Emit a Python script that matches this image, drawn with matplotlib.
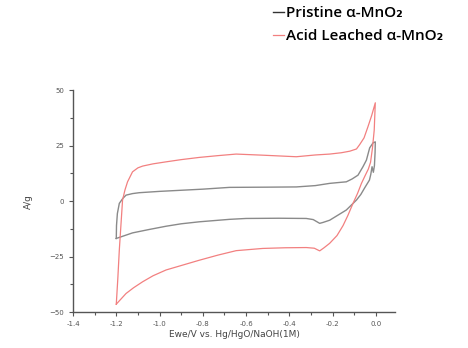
import matplotlib.pyplot as plt
import numpy as np

# Acid leached alpha-MnO2 (red): anodic sweep up to 0 V, then cathodic sweep back
leached_E = [-1.2, -1.193, -1.186, -1.178, -1.171, -1.16, -1.148, -1.125, -1.1, -1.078, -1.03, -0.97,
             -0.9, -0.816, -0.73, -0.646, -0.523, -0.368, -0.28, -0.214, -0.16, -0.121, -0.09, -0.075,
             -0.055, -0.037, -0.02, -0.003,
             -0.008, -0.016, -0.025, -0.035, -0.05, -0.067, -0.085, -0.106, -0.13, -0.152, -0.18,
             -0.214, -0.24, -0.26, -0.285, -0.322, -0.42, -0.523, -0.646, -0.73, -0.816, -0.9, -0.97,
             -1.03, -1.078, -1.12, -1.155, -1.2]
leached_I = [-46.4, -35.0, -22.0, -10.0, 0.5, 5.0, 8.7, 13.2, 15.0, 15.8, 16.8, 17.7,
             18.7, 19.7, 20.5, 21.2, 20.7, 20.0, 20.8, 21.2, 21.8, 22.5, 23.5, 25.5,
             28.5, 33.5, 38.5, 44.3,
             32.0, 24.0, 17.5, 14.5, 11.5, 8.0, 3.5, -1.0, -6.5, -11.0, -15.5,
             -19.0, -21.0, -22.4, -21.2, -20.9, -21.0, -21.3, -22.3, -24.3, -26.6, -29.0, -31.0,
             -33.6, -36.3, -39.0, -41.6, -46.4]

# Pristine alpha-MnO2 (gray)
pristine_E = [-1.2, -1.199, -1.195, -1.186, -1.17, -1.155, -1.125, -1.094, -1.0, -0.9, -0.8, -0.677,
              -0.5, -0.368, -0.28, -0.214, -0.16, -0.137, -0.11, -0.083, -0.06, -0.044, -0.029,
              -0.013, -0.003,
              -0.004, -0.007, -0.012, -0.018, -0.024, -0.03, -0.052, -0.07, -0.09, -0.137, -0.214,
              -0.245, -0.26, -0.29, -0.322, -0.45, -0.6, -0.677, -0.816, -0.9, -0.97, -1.05, -1.125, -1.2]
pristine_I = [-16.8, -11.0, -5.6, -1.0, 1.2, 2.7, 3.4, 3.8, 4.4, 4.9, 5.4, 6.2,
              6.3, 6.4, 7.0, 8.0, 8.5, 8.7, 10.0, 11.7, 15.5, 18.5, 24.0,
              26.3, 26.7,
              22.0, 16.0, 13.0, 15.5, 12.0, 9.5, 6.0, 3.0, 0.5, -4.0, -8.6,
              -9.6, -10.0, -8.3, -7.8, -7.7, -7.8, -8.2, -9.3, -10.2, -11.3, -12.8, -14.3, -16.8]

fig = plt.figure(figsize=(4.68, 3.48), dpi=100)
ax = fig.add_axes([0.156, 0.103, 0.688, 0.638])

ax.plot(pristine_E, pristine_I, color='#8a8a8a', lw=1.0, label='Pristine α-MnO₂')
ax.plot(leached_E, leached_I, color='#f28080', lw=0.9, label='Acid Leached α-MnO₂')

ax.set_xlim(-1.4, 0.088)
ax.set_ylim(-50, 50)
ax.set_xticks(np.arange(-1.4, 0.01, 0.2))
ax.set_xticks(np.arange(-1.4, 0.09, 0.1), minor=True)
ax.set_yticks([-50, -25, 0, 25, 50])
ax.set_yticks(np.arange(-50, 51, 12.5), minor=True)
ax.set_xticklabels(['-1.4', '-1.2', '-1.0', '-0.8', '-0.6', '-0.4', '-0.2', '0.0'])
ax.tick_params(direction='out', labelsize=5, colors='#555555', length=3, width=0.8)
ax.tick_params(which='minor', direction='out', length=2, width=0.8, colors='#555555')
for s in ['top', 'right']:
    ax.spines[s].set_visible(False)
for s in ['left', 'bottom']:
    ax.spines[s].set_color('#555555')
    ax.spines[s].set_linewidth(1.0)

ax.set_xlabel('Ewe/V vs. Hg/HgO/NaOH(1M)', fontsize=6.5, color='#444444', labelpad=2)
ax.set_ylabel('A/g', fontsize=6.5, color='#444444', labelpad=12)

leg = fig.legend(loc='upper left', bbox_to_anchor=(0.57, 1.0), frameon=False,
                 prop={'family': ['Open Sans', 'DejaVu Sans'], 'size': 11, 'weight': 'semibold'},
                 handlelength=0.7, handletextpad=0.15, labelspacing=0.6, borderaxespad=0)
leg.get_lines()[0].set_color('#333333')

fig.savefig('out.png', dpi=100)
